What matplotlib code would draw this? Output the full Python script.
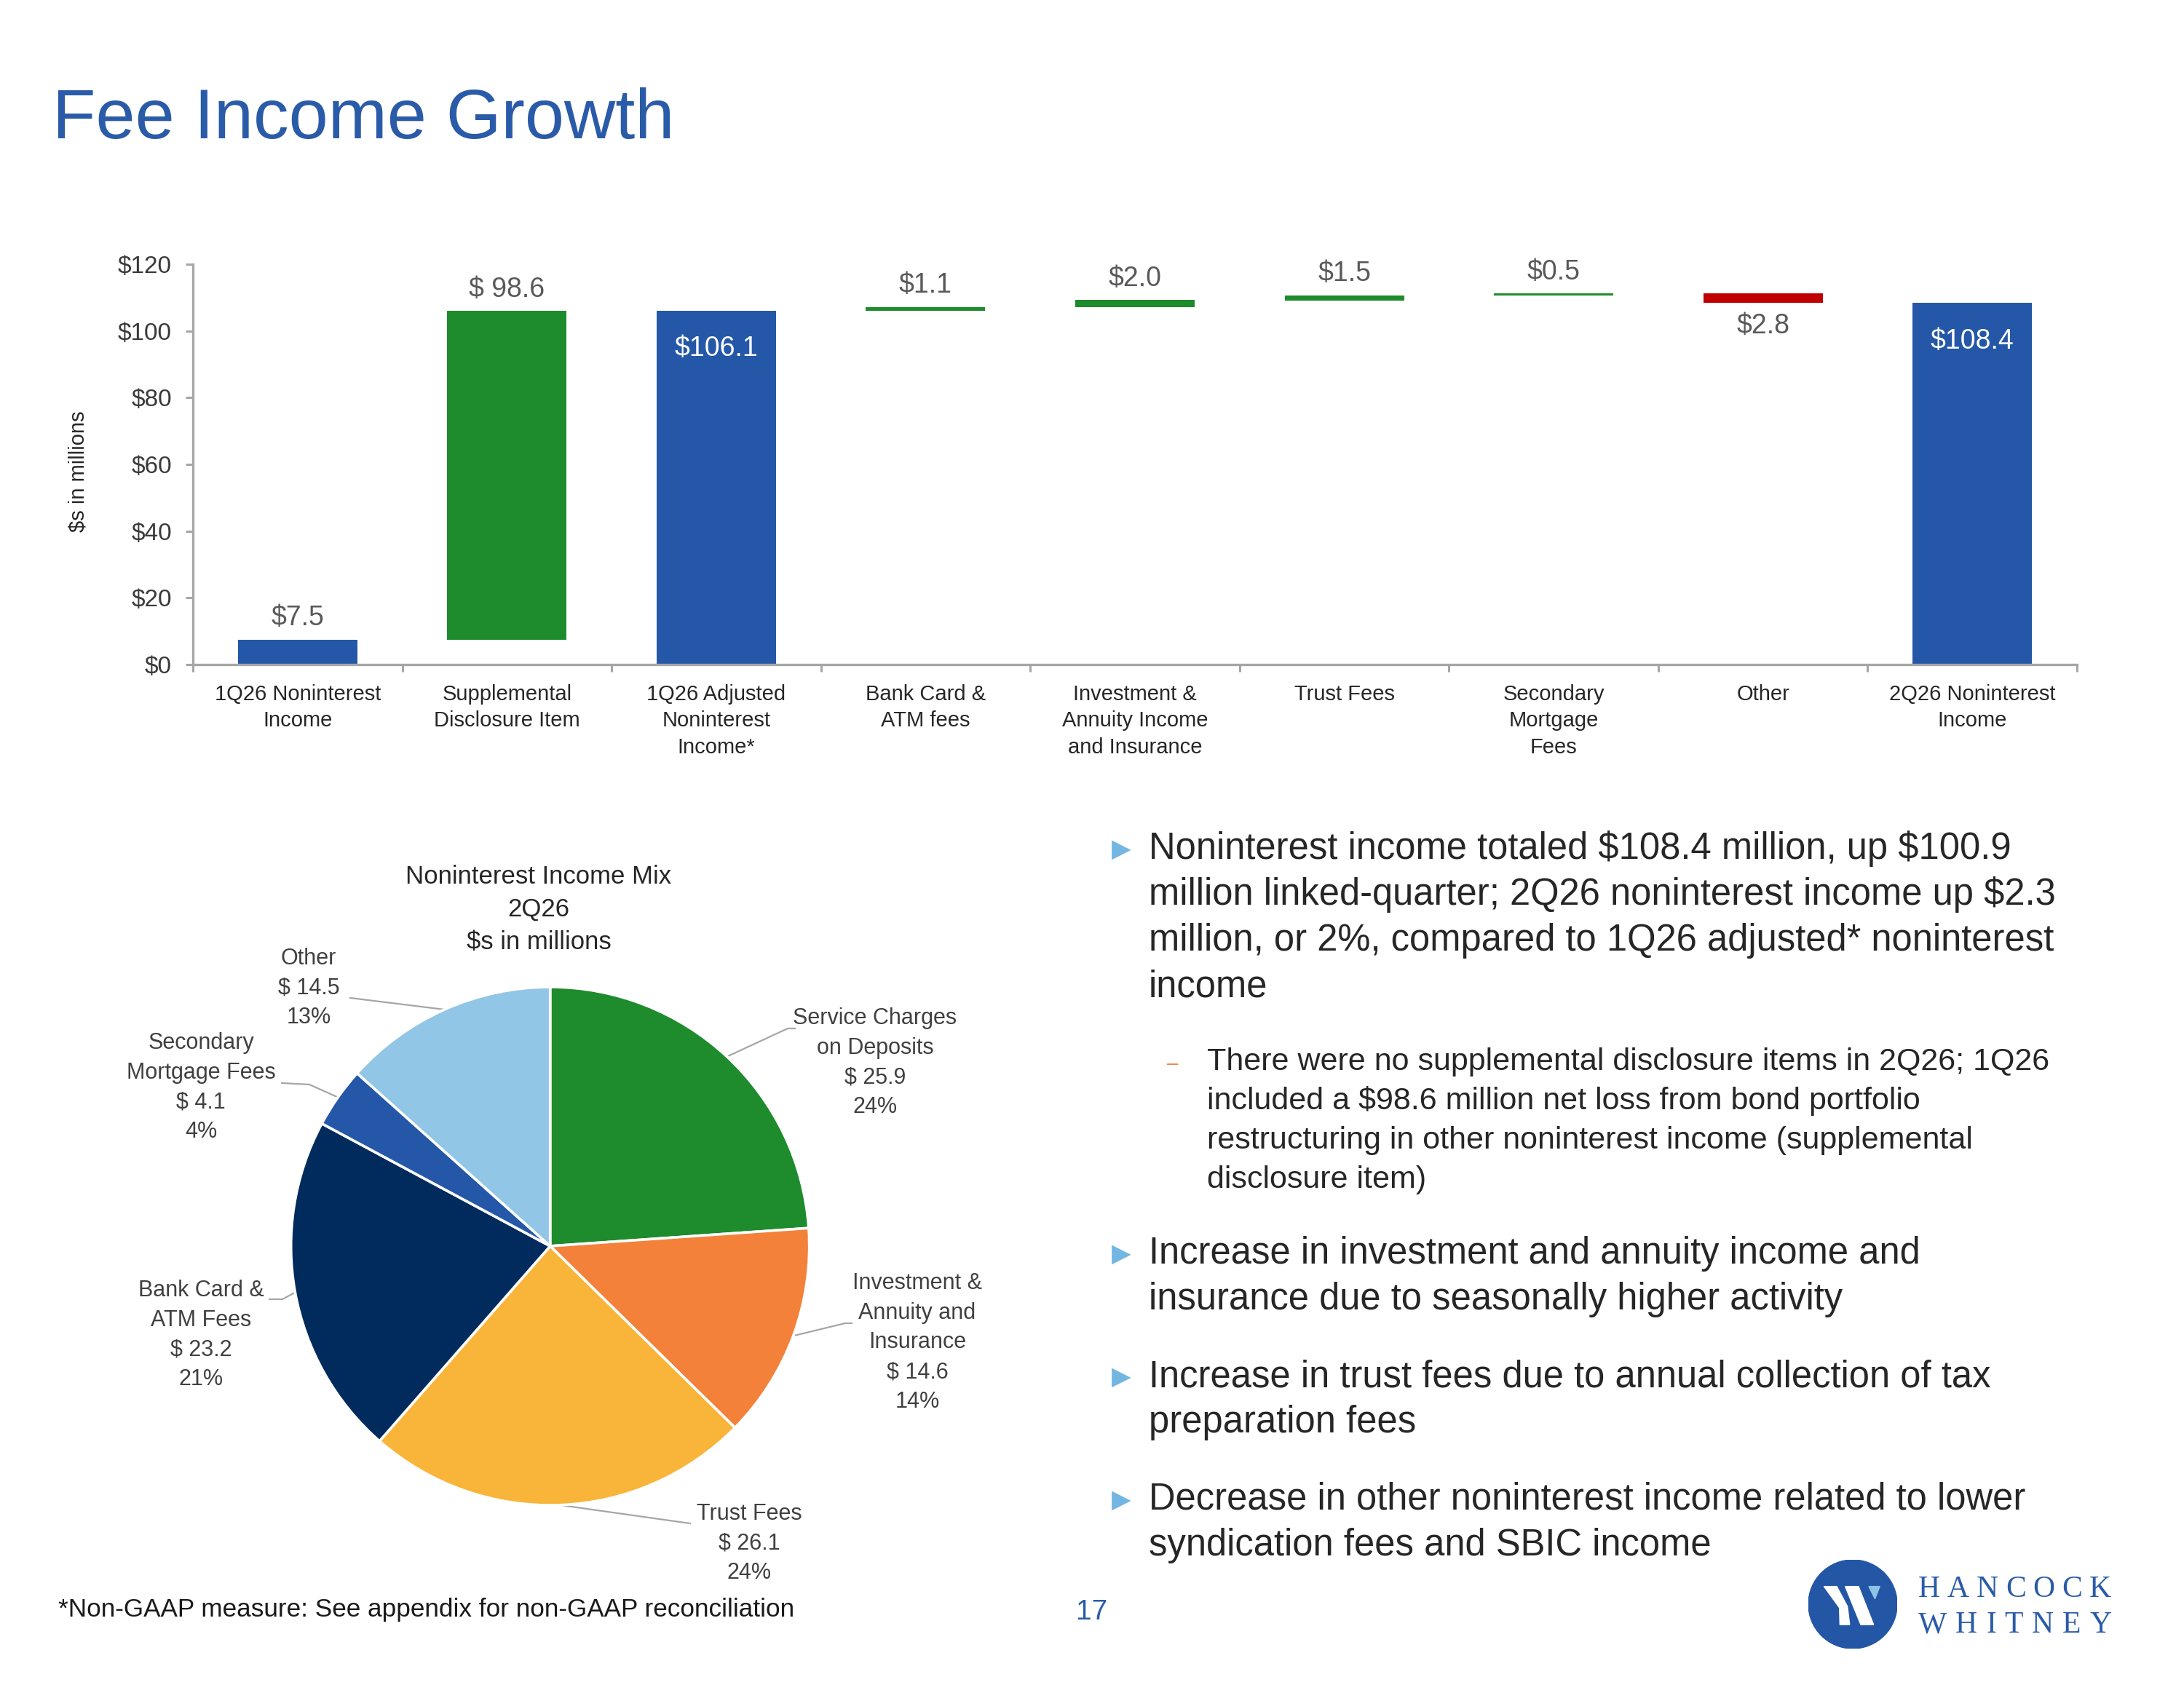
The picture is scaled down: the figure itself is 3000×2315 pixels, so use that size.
import matplotlib
matplotlib.use("Agg")
import matplotlib.pyplot as plt
import matplotlib.transforms as mtransforms
from matplotlib.patches import Circle, Polygon
import numpy as np

# ---------------- data ----------------
categories = ["1Q26 Noninterest\nIncome", "Supplemental\nDisclosure Item",
              "1Q26 Adjusted\nNoninterest\nIncome*", "Bank Card &\nATM fees",
              "Investment &\nAnnuity Income\nand Insurance", "Trust Fees",
              "Secondary\nMortgage\nFees", "Other", "2Q26 Noninterest\nIncome"]
bar_values = [7.5, 98.6, 106.1, 1.1, 2.0, 1.5, 0.5, -2.8, 108.4]
bar_kinds = ["total", "delta", "total", "delta", "delta", "delta", "delta", "delta", "total"]
bar_labels = ["$7.5", "$ 98.6", "$106.1", "$1.1", "$2.0", "$1.5", "$0.5", "$2.8", "$108.4"]
bar_label_pos = ["above", "above", "inside", "above", "above", "above", "above", "below", "inside"]
y_ticks = [0, 20, 40, 60, 80, 100, 120]
y_tick_labels = ["$0", "$20", "$40", "$60", "$80", "$100", "$120"]

pie_names = ["Service Charges\non Deposits", "Investment &\nAnnuity and\nInsurance", "Trust Fees",
             "Bank Card &\nATM Fees", "Secondary\nMortgage Fees", "Other"]
pie_values = [25.9, 14.6, 26.1, 23.2, 4.1, 14.5]
pie_pcts = ["24%", "14%", "24%", "21%", "4%", "13%"]
pie_title = "Noninterest Income Mix\n2Q26\n$s in millions"

bullets = [
    "Noninterest income totaled $108.4 million, up $100.9\nmillion linked-quarter; 2Q26 noninterest income up $2.3\nmillion, or 2%, compared to 1Q26 adjusted* noninterest\nincome",
    "Increase in investment and annuity income and\ninsurance due to seasonally higher activity",
    "Increase in trust fees due to annual collection of tax\npreparation fees",
    "Decrease in other noninterest income related to lower\nsyndication fees and SBIC income",
]
sub_bullet = "There were no supplemental disclosure items in 2Q26; 1Q26\nincluded a $98.6 million net loss from bond portfolio\nrestructuring in other noninterest income (supplemental\ndisclosure item)"
footer = "*Non-GAAP measure: See appendix for non-GAAP reconciliation"
page_no = "17"
title = "Fee Income Growth"
logo_words = ["HANCOCK", "WHITNEY"]

# ---------------- style ----------------
W, H = 3000, 2315
plt.rcParams['font.family'] = ['Liberation Sans', 'DejaVu Sans']
plt.rcParams['text.parse_math'] = False
BLUE = '#2457A7'
TITLE_BLUE = '#2A5BA8'
GREEN = '#1E8B2C'
RED = '#C00000'
GRAY_TXT = '#595959'
DARK_TXT = '#262626'
AXIS_GRAY = '#A6A6A6'
pie_colors = ['#1E8B2C', '#F4813A', '#F9B53A', '#002B5C', '#2457A7', '#92C6E6']

fig = plt.figure(figsize=(W / 100, H / 100), dpi=100)
fig.patch.set_facecolor('white')


def fx(px):
    return px / W


def fy(py):
    return 1 - py / H


def lines_at(x, y0, text, step, **kw):
    for i, ln in enumerate(text.split("\n")):
        fig.text(fx(x), fy(y0 + i * step), ln, va='baseline', **kw)


# title
fig.text(fx(72), fy(190), title, fontsize=70, color=TITLE_BLUE, va='baseline', ha='left')

# ---------------- waterfall ----------------
bottoms, heights, colors = [], [], []
running = 0.0
for v, k in zip(bar_values, bar_kinds):
    if k == "total":
        bottoms.append(0.0)
        heights.append(v)
        colors.append(BLUE)
        running = v
    else:
        if v >= 0:
            bottoms.append(running)
            heights.append(v)
            colors.append(GREEN)
        else:
            bottoms.append(running + v)
            heights.append(-v)
            colors.append(RED)
        running += v

ax = fig.add_axes([fx(265), fy(913), fx(2853 - 265), (913 - 363) / H])
x = np.arange(len(categories))
ax.bar(x, heights, bottom=bottoms, width=0.57, color=colors, linewidth=0, zorder=2)
ax.set_xlim(-0.5, len(categories) - 0.5)
ax.set_ylim(0, 120)
for s in ['top', 'right']:
    ax.spines[s].set_visible(False)
for s in ['left', 'bottom']:
    ax.spines[s].set_color(AXIS_GRAY)
    ax.spines[s].set_linewidth(2.4)
ax.set_yticks(y_ticks)
ax.set_yticklabels(y_tick_labels)
ax.tick_params(axis='y', direction='out', length=7, width=2.2, color=AXIS_GRAY,
               labelsize=24, labelcolor='#3a3a3a', pad=14)
ax.set_xticks(np.arange(-0.5, len(categories), 1.0))
ax.set_xticklabels([])
ax.tick_params(axis='x', direction='out', length=7, width=2.2, color=AXIS_GRAY)

for i, (lab, pos) in enumerate(zip(bar_labels, bar_label_pos)):
    top = bottoms[i] + heights[i]
    bot = bottoms[i]
    if pos == "above":
        ax.annotate(lab, (x[i], top), xytext=(0, 21), textcoords='offset points',
                    ha='center', va='center', fontsize=27, color=GRAY_TXT)
    elif pos == "below":
        ax.annotate(lab, (x[i], bot), xytext=(0, -23), textcoords='offset points',
                    ha='center', va='center', fontsize=27, color=GRAY_TXT)
    else:
        ax.annotate(lab, (x[i], top), xytext=(0, -38), textcoords='offset points',
                    ha='center', va='center', fontsize=27, color='white')

trans = mtransforms.blended_transform_factory(ax.transData, fig.transFigure)
for i, cat in enumerate(categories):
    for j, ln in enumerate(cat.split("\n")):
        ax.text(x[i], fy(962 + j * 36.5), ln, transform=trans, ha='center', va='baseline',
                fontsize=21, color=DARK_TXT)

fig.text(fx(107), fy(648), "$s in millions", rotation=90, ha='center', va='center',
         fontsize=21, color=DARK_TXT)

# ---------------- pie ----------------
PCX, PCY, PR = 755.7, 1712.0, 356.0
pax = fig.add_axes([fx(PCX - PR), fy(PCY + PR), 2 * PR / W, 2 * PR / H])
wedges, _ = pax.pie(pie_values, colors=pie_colors, startangle=90, counterclock=False, radius=1.0,
                    wedgeprops=dict(edgecolor='white', linewidth=2.6))
pax.set_xlim(-1, 1)
pax.set_ylim(-1, 1)
pax.set_aspect('equal')
pax.axis('off')


def to_pie(px, py):
    return (px - PCX) / PR, (PCY - py) / PR


# label layout (pixel positions): center x, first baseline, leader elbow, leader end
label_layout = [
    (1202, 1407, (1082, 1413), (1092, 1413)),
    (1260, 1771, (1161, 1818), (1170, 1818)),
    (1029, 2088, (948, 2093), (948, 2093)),
    (276, 1781, (388, 1785), (370, 1785)),
    (276, 1441, (425, 1490), (387, 1488)),
    (424, 1325, (481, 1371), (481, 1371)),
]
for w, name, val, pct, (lx, ly, elb, end) in zip(wedges, pie_names, pie_values, pie_pcts, label_layout):
    mid = np.deg2rad((w.theta1 + w.theta2) / 2)
    sx, sy = np.cos(mid), np.sin(mid)
    ex, ey = to_pie(*elb)
    nx, ny = to_pie(*end)
    pax.plot([sx, ex, nx], [sy, ey, ny], color=AXIS_GRAY, lw=1.6, clip_on=False, zorder=0)
    txt = f"{name}\n$ {val:.1f}\n{pct}"
    lines_at(lx, ly, txt, 40.7, ha='center', fontsize=22, color='#404040')

lines_at(740, 1214, pie_title, 45, ha='center', fontsize=25, color=DARK_TXT)

# ---------------- bullets ----------------
bullet_y = [1180, 1736, 1905, 2074]
for b, yb in zip(bullets, bullet_y):
    fig.text(fx(1540), fy(yb - 13), "\u25B6", ha='center', va='center', fontsize=25,
             color='#74B6E2', family=['DejaVu Sans'])
    lines_at(1578, yb, b, 63, ha='left', fontsize=36.5, color=DARK_TXT)

fig.text(fx(1611), fy(1462), "\u2013", ha='center', va='center', fontsize=20, color='#E8884A')
lines_at(1658, 1470, sub_bullet, 54, ha='left', fontsize=31, color=DARK_TXT)

# footer & page number
fig.text(fx(80), fy(2221), footer, fontsize=25.3, va='baseline', ha='left', color='#1a1a1a')
fig.text(fx(1500), fy(2225), page_no, fontsize=28, va='baseline', ha='center', color=TITLE_BLUE)

# ---------------- logo ----------------
lax = fig.add_axes([fx(2545 - 61), fy(2204 + 61), 122 / W, 122 / H])
lax.set_xlim(-1, 1)
lax.set_ylim(-1, 1)
lax.axis('off')
lax.add_patch(Circle((0, 0), 1.0, color='#2456A6'))
lax.add_patch(Polygon([(-0.65, 0.4), (-0.36, 0.4), (-0.12, -0.05), (-0.07, -0.46),
                       (-0.29, -0.46), (-0.30, -0.08)], closed=True, color='white'))
lax.add_patch(Polygon([(-0.17, 0.4), (0.13, 0.4), (0.47, -0.46), (0.18, -0.46)],
                      closed=True, color='white'))
lax.add_patch(Polygon([(0.36, 0.4), (0.61, 0.4), (0.5, 0.12)], closed=True, color='#8EC3E8'))

renderer = fig.canvas.get_renderer()
LOGO_X0, LOGO_X1 = 2635, 2900
for word, yb in zip(logo_words, (2194, 2243)):
    txts = [fig.text(0, fy(yb), ch, ha='left', va='baseline', fontsize=30,
                     color=TITLE_BLUE, family=['Liberation Serif', 'DejaVu Serif']) for ch in word]
    widths = [t.get_window_extent(renderer=renderer).width for t in txts]
    gap = (LOGO_X1 - LOGO_X0 - sum(widths)) / (len(word) - 1)
    cur = LOGO_X0
    for t, wd in zip(txts, widths):
        t.set_x(fx(cur))
        cur += wd + gap

fig.savefig("out.png", dpi=100, facecolor='white')
